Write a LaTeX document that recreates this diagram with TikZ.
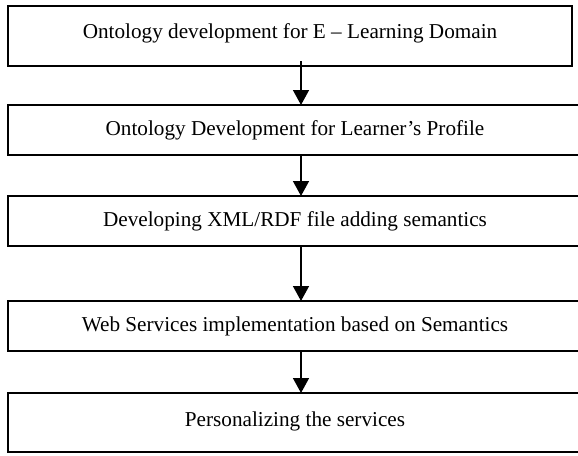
\documentclass[tikz,border=0pt]{standalone}
\usepackage{fontspec}
\setmainfont{Liberation Serif}
\usetikzlibrary{arrows.meta, positioning}

\begin{document}
\begin{tikzpicture}[
    x=1pt, y=1pt,
    every node/.style={font=\fontsize{21.2}{25}\selectfont},
    stage/.style={rectangle, draw=black, line width=1.7pt, minimum width=574pt, minimum height=50pt, inner sep=0pt, outer sep=0pt, anchor=north west},
    flow/.style={-{Triangle[width=16pt, length=15pt]}, line width=1.5pt}
]
\useasboundingbox (0,0) rectangle (578,-455);
\clip (0,0) rectangle (578,-455);

% Stages of the work, top to bottom
\node[stage, minimum width=564pt, minimum height=60pt, text depth=10pt] (domain) at (8,-6) {Ontology development for E -- Learning Domain};
\node[stage, below=39pt of domain.south west, anchor=north west] (profile) {Ontology Development for Learner’s Profile};
\node[stage, below=41pt of profile.south west, anchor=north west] (xmlrdf) {Developing XML/RDF file adding semantics};
\node[stage, below=55pt of xmlrdf.south west, anchor=north west] (webserv) {Web Services implementation based on Semantics};
\node[stage, below=42pt of webserv.south west, anchor=north west, minimum height=59pt, text depth=6pt] (personal) {Personalizing the services};

% Arrows down the middle
\coordinate (spine) at (301,0);
\draw[flow] ([yshift=5pt]domain.south -| spine) -- (profile.north -| spine);
\draw[flow] (profile.south -| spine) -- (xmlrdf.north -| spine);
\draw[flow] (xmlrdf.south -| spine) -- (webserv.north -| spine);
\draw[flow] (webserv.south -| spine) -- (personal.north -| spine);

\end{tikzpicture}
\end{document}
